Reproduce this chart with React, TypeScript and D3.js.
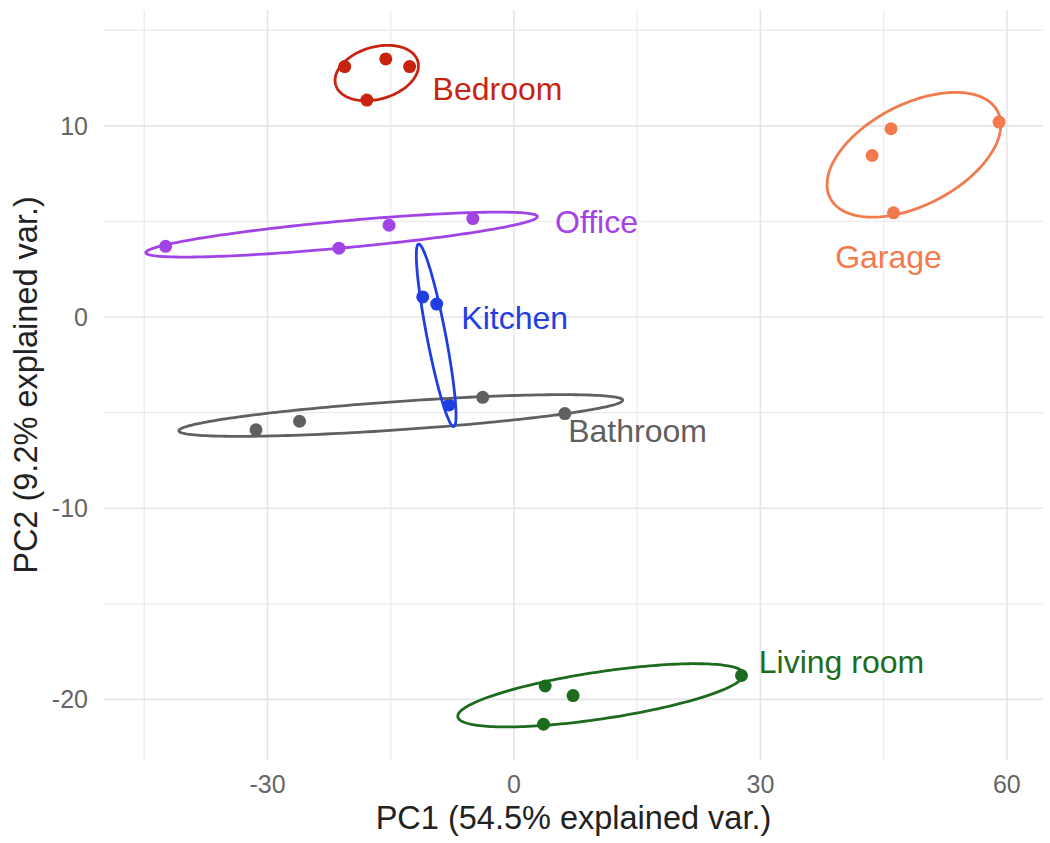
import { useRef, useEffect } from "react";
import * as d3 from "d3";

// groups in factor order (alphabetical, as ggplot draws them)
const groups = ["Bathroom", "Bedroom", "Garage", "Kitchen", "Living room", "Office"];
const groupColors = ["#606060", "#c8230f", "#f27a4c", "#1f3fe0", "#1d6b1d", "#a243e6"];

// PC scores
const bathroomPC1 = [-31.4, -26.1, -3.8, 6.2];
const bathroomPC2 = [-5.9, -5.45, -4.2, -5.05];
const bedroomPC1 = [-20.6, -15.6, -12.7, -17.9];
const bedroomPC2 = [13.1, 13.5, 13.1, 11.35];
const garagePC1 = [43.6, 45.9, 46.2, 59.05];
const garagePC2 = [8.45, 9.85, 5.45, 10.2];
const kitchenPC1 = [-11.1, -9.4, -7.9];
const kitchenPC2 = [1.05, 0.68, -4.6];
const livingPC1 = [3.6, 3.8, 7.2, 27.7];
const livingPC2 = [-21.3, -19.3, -19.8, -18.75];
const officePC1 = [-42.4, -21.3, -15.2, -5.0];
const officePC2 = [3.7, 3.6, 4.8, 5.15];

const scoresPC1 = [bathroomPC1, bedroomPC1, garagePC1, kitchenPC1, livingPC1, officePC1];
const scoresPC2 = [bathroomPC2, bedroomPC2, garagePC2, kitchenPC2, livingPC2, officePC2];

// where each group name sits (data units, left/baseline)
const labelPC1 = [6.6, -9.9, 39.1, -6.4, 29.8, 5.0];
const labelPC2 = [-6.55, 11.35, 2.55, -0.65, -18.6, 4.4];

const xTicks = [-30, 0, 30, 60];
const xMinor = [-45, -15, 15, 45];
const yTicks = [-20, -10, 0, 10];
const yMinor = [-15, -5, 5, 15];

const xTitle = "PC1 (54.5% explained var.)";
const yTitle = "PC2 (9.2% explained var.)";
const ellipseProb = 0.68;

const FONT = "'Liberation Sans', Arial, Helvetica, sans-serif";

// ggbiplot style normal ellipse from the group's covariance
const ellipse = (xs: number[], ys: number[]) => {
  const n = xs.length;
  const mx = d3.mean(xs) as number;
  const my = d3.mean(ys) as number;
  const sxx = d3.sum(xs, (v) => (v - mx) ** 2) / (n - 1);
  const syy = d3.sum(ys, (v) => (v - my) ** 2) / (n - 1);
  const sxy = d3.sum(xs.map((v, i) => (v - mx) * (ys[i] - my))) / (n - 1);
  const r11 = Math.sqrt(sxx);
  const r12 = sxy / r11;
  const r22 = Math.sqrt(Math.max(syy - r12 * r12, 0));
  const ed = Math.sqrt(-2 * Math.log(1 - ellipseProb));
  return d3.range(200).map((i) => {
    const t = -Math.PI + (2 * Math.PI * i) / 200;
    const c = Math.cos(t);
    const s = Math.sin(t);
    return [mx + ed * c * r11, my + ed * (c * r12 + s * r22)] as [number, number];
  });
};

export default function App() {
  const svgRef = useRef<SVGSVGElement>(null);

  useEffect(() => {
    document.body.style.margin = "0";
    const svg = d3.select(svgRef.current);
    svg.selectAll("*").remove();

    const x = d3.scaleLinear().domain([-49.9, 64.4]).range([104, 1043]);
    const y = d3.scaleLinear().domain([-23.17, 16.06]).range([760, 10]);
    const [x0, x1] = x.range();
    const [y0, y1] = y.range();

    // grid
    const grid = svg.append("g");
    grid
      .selectAll(".vminor")
      .data(xMinor)
      .join("line")
      .attr("x1", (d) => x(d))
      .attr("x2", (d) => x(d))
      .attr("y1", y1)
      .attr("y2", y0)
      .attr("stroke", "#ececec")
      .attr("stroke-width", 1.3);
    grid
      .selectAll(".hminor")
      .data(yMinor)
      .join("line")
      .attr("x1", x0)
      .attr("x2", x1)
      .attr("y1", (d) => y(d))
      .attr("y2", (d) => y(d))
      .attr("stroke", "#ececec")
      .attr("stroke-width", 1.3);
    grid
      .selectAll(".vmajor")
      .data(xTicks)
      .join("line")
      .attr("x1", (d) => x(d))
      .attr("x2", (d) => x(d))
      .attr("y1", y1)
      .attr("y2", y0)
      .attr("stroke", "#e6e6e6")
      .attr("stroke-width", 1.6);
    grid
      .selectAll(".hmajor")
      .data(yTicks)
      .join("line")
      .attr("x1", x0)
      .attr("x2", x1)
      .attr("y1", (d) => y(d))
      .attr("y2", (d) => y(d))
      .attr("stroke", "#e6e6e6")
      .attr("stroke-width", 1.6);

    // tick labels
    svg
      .append("g")
      .selectAll("text")
      .data(xTicks)
      .join("text")
      .attr("x", (d) => x(d))
      .attr("y", 793)
      .attr("text-anchor", "middle")
      .attr("font-family", FONT)
      .attr("font-size", 25)
      .attr("fill", "#666")
      .text((d) => d);
    svg
      .append("g")
      .selectAll("text")
      .data(yTicks)
      .join("text")
      .attr("x", 88)
      .attr("y", (d) => y(d))
      .attr("dy", "0.36em")
      .attr("text-anchor", "end")
      .attr("font-family", FONT)
      .attr("font-size", 25)
      .attr("fill", "#666")
      .text((d) => d);

    // axis titles
    svg
      .append("text")
      .attr("x", (x0 + x1) / 2)
      .attr("y", 829)
      .attr("text-anchor", "middle")
      .attr("font-family", FONT)
      .attr("font-size", 32.5)
      .attr("fill", "#222")
      .text(xTitle);
    svg
      .append("text")
      .attr("transform", `translate(37,${(y0 + y1) / 2}) rotate(-90)`)
      .attr("text-anchor", "middle")
      .attr("font-family", FONT)
      .attr("font-size", 32.5)
      .attr("fill", "#222")
      .text(yTitle);

    // points
    const pts = svg.append("g");
    groups.forEach((g, gi) => {
      pts
        .append("g")
        .selectAll("circle")
        .data(scoresPC1[gi])
        .join("circle")
        .attr("cx", (d) => x(d))
        .attr("cy", (_, i) => y(scoresPC2[gi][i]))
        .attr("r", 6.5)
        .attr("fill", groupColors[gi]);
    });

    // ellipses
    const path = d3
      .line<[number, number]>()
      .x((d) => x(d[0]))
      .y((d) => y(d[1]))
      .curve(d3.curveLinearClosed);
    svg
      .append("g")
      .selectAll("path")
      .data(groups)
      .join("path")
      .attr("d", (_, gi) => path(ellipse(scoresPC1[gi], scoresPC2[gi])))
      .attr("fill", "none")
      .attr("stroke", (_, gi) => groupColors[gi])
      .attr("stroke-width", 2.8);

    // group names
    svg
      .append("g")
      .selectAll("text")
      .data(groups)
      .join("text")
      .attr("x", (_, gi) => x(labelPC1[gi]))
      .attr("y", (_, gi) => y(labelPC2[gi]))
      .attr("font-family", FONT)
      .attr("font-size", 32)
      .attr("fill", (_, gi) => groupColors[gi])
      .text((d) => d);
  }, []);

  return <svg ref={svgRef} width={1050} height={843} style={{ display: "block", background: "#fff" }} />;
}
